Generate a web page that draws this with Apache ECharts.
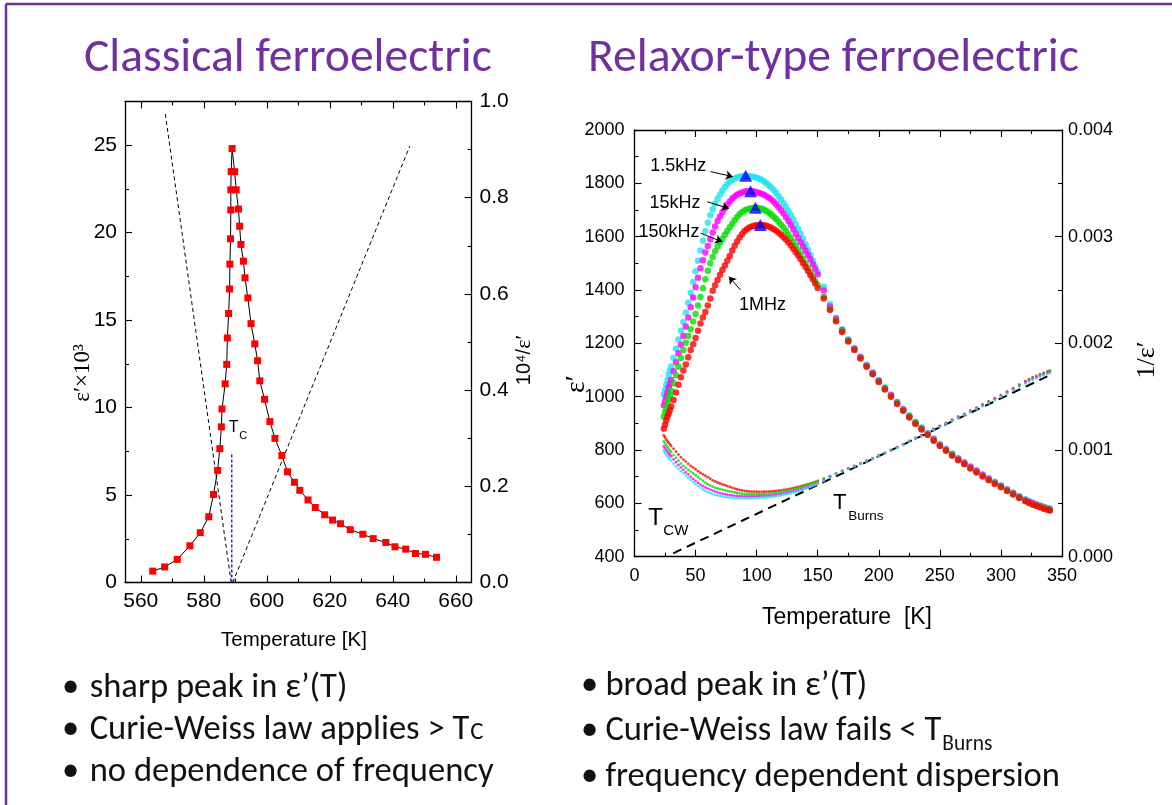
<!DOCTYPE html>
<html>
<head>
<meta charset="utf-8">
<title>Classical vs relaxor ferroelectrics</title>
<script src="https://cdn.jsdelivr.net/npm/echarts@6.0.0/dist/echarts.min.js"></script>
<style>
  html, body { margin: 0; padding: 0; background: #ffffff; }
  #main { width: 1172px; height: 805px; }
</style>
</head>
<body>
<div id="main"></div>
<script>
// ---------- Classical ferroelectric: ε′(T) around T_C ----------
const classicTemp = [563.8, 567.6, 571.6, 575.6, 578.9, 581.6, 583.1, 584.4, 585.1, 585.6,
  585.8, 586.8, 587.3, 587.5, 587.9, 588.2, 588.3, 588.5, 588.6, 588.6,
  588.7, 589.0, 589.8, 590.3, 591.0, 591.4, 591.8, 592.6, 593.1, 594.0,
  595.0, 596.2, 597.1, 597.8, 599.3, 601.0, 602.6, 604.8, 606.6, 608.8,
  610.5, 613.1, 615.4, 618.4, 620.9, 623.4, 626.5, 630.5, 633.8, 637.8,
  640.7, 644.1, 647.2, 650.4, 653.9];
// ε′ in units of 10^3
const classicEps = [0.65, 0.89, 1.32, 2.10, 2.85, 3.76, 5.03, 6.41, 7.65, 8.90,
  9.92, 11.36, 12.47, 13.98, 15.38, 16.78, 18.20, 19.65, 21.30, 22.45,
  23.49, 24.81, 23.49, 22.45, 21.35, 20.37, 19.33, 18.37, 17.42, 16.27,
  14.80, 13.64, 12.68, 11.53, 10.47, 9.20, 8.24, 7.26, 6.33, 5.73,
  5.27, 4.72, 4.29, 3.87, 3.57, 3.36, 3.02, 2.76, 2.51, 2.29,
  2.04, 1.91, 1.66, 1.61, 1.44];
// Curie–Weiss lines, 10^4/ε′ below and above T_C
const cwBelowTemp = [567.8, 588.7];
const cwBelowInv = [0.974, 0.0];
const cwAboveTemp = [589.2, 645.4];
const cwAboveInv = [0.0, 0.907];
// T_C marker (ε′ scale)
const tcTemp = [588.9, 588.9];
const tcEps = [0.0, 7.45];

const classicTempTicks = [560, 580, 600, 620, 640, 660];
const classicTempMinor = [570, 590, 610, 630, 650];
const classicEpsTicks = [0, 5, 10, 15, 20, 25];
const classicEpsMinor = [2.5, 7.5, 12.5, 17.5, 22.5];
const classicInvTicks = [0, 0.2, 0.4, 0.6, 0.8, 1.0];
const classicInvMinor = [0.1, 0.3, 0.5, 0.7, 0.9];

// ---------- Relaxor: ε′(T) at four frequencies ----------
const relaxTemp = [24, 25, 26, 27, 28, 29, 30,
  32, 34, 36, 38, 40, 42, 44, 46, 48, 50,
  52, 54, 56, 58, 60, 62, 64, 66, 68, 70,
  72, 74, 76, 78, 80, 82, 84, 86, 88, 90,
  92, 94, 96, 98, 100, 102, 104, 106, 108, 110,
  112, 114, 116, 118, 120, 122, 124, 126, 128, 130,
  132, 134, 136, 138, 140, 142, 144, 146, 148, 150,
  155, 160, 165, 170, 175, 180, 185, 190, 195, 200,
  205, 210, 215, 220, 225, 230, 235, 240, 245, 250,
  255, 260, 265, 270, 275, 280, 285, 290, 295, 300,
  305, 310, 315, 320, 323, 326, 329, 332, 335, 338, 340];
const eps1_5kHz = [1008, 1026, 1044, 1063, 1081, 1097, 1113,
  1146, 1180, 1214, 1247, 1280, 1316, 1352, 1390, 1430, 1470,
  1510, 1548, 1585, 1620, 1652, 1680, 1703, 1723, 1742, 1758,
  1773, 1786, 1797, 1806, 1813, 1818, 1822, 1825, 1827, 1828,
  1828, 1827, 1826, 1824, 1821, 1818, 1813, 1807, 1800, 1792,
  1784, 1775, 1764, 1752, 1739, 1725, 1711, 1697, 1681, 1664,
  1647, 1629, 1611, 1592, 1572, 1552, 1531, 1510, 1489, 1468,
  1412, 1348, 1296, 1253, 1215, 1183, 1151, 1120, 1092, 1063,
  1035, 1008, 981, 955, 930, 906, 885, 864, 843, 823,
  805, 787, 770, 755, 739, 724, 709, 695, 681, 668,
  654, 641, 628, 616, 609, 603, 598, 593, 588, 584, 581];
const eps15kHz = [968, 984, 1000, 1017, 1034, 1048, 1063,
  1095, 1129, 1163, 1195, 1228, 1263, 1297, 1335, 1372, 1410,
  1446, 1482, 1512, 1541, 1565, 1590, 1616, 1638, 1659, 1676,
  1692, 1707, 1720, 1732, 1743, 1751, 1757, 1762, 1766, 1768,
  1770, 1771, 1770, 1769, 1767, 1764, 1761, 1757, 1752, 1746,
  1739, 1731, 1721, 1710, 1699, 1687, 1673, 1659, 1644, 1628,
  1611, 1595, 1579, 1563, 1547, 1531, 1515, 1497, 1478, 1458,
  1398, 1338, 1291, 1250, 1212, 1180, 1148, 1117, 1089, 1060,
  1032, 1005, 978, 952, 927, 903, 882, 861, 840, 820,
  802, 784, 767, 752, 736, 721, 706, 692, 678, 665,
  651, 638, 625, 613, 606, 600, 595, 590, 585, 581, 578];
const eps150kHz = [925, 942, 958, 974, 990, 1005, 1021,
  1050, 1080, 1112, 1145, 1175, 1202, 1228, 1253, 1282, 1310,
  1342, 1374, 1407, 1440, 1472, 1500, 1524, 1545, 1563, 1578,
  1592, 1607, 1621, 1635, 1648, 1662, 1674, 1684, 1692, 1698,
  1702, 1705, 1707, 1708, 1708, 1707, 1705, 1701, 1696, 1690,
  1683, 1675, 1666, 1656, 1645, 1634, 1621, 1608, 1594, 1580,
  1565, 1549, 1533, 1516, 1499, 1482, 1466, 1449, 1433, 1418,
  1375, 1328, 1285, 1245, 1209, 1177, 1145, 1114, 1086, 1057,
  1029, 1002, 975, 949, 924, 900, 879, 858, 837, 817,
  799, 781, 764, 749, 733, 718, 703, 689, 675, 662,
  648, 635, 622, 610, 603, 597, 592, 587, 582, 578, 575];
const eps1MHz = [880, 895, 911, 925, 937, 950, 963,
  988, 1016, 1045, 1073, 1098, 1121, 1148, 1175, 1197, 1220,
  1247, 1274, 1297, 1318, 1342, 1368, 1397, 1418, 1438, 1457,
  1475, 1492, 1510, 1528, 1548, 1566, 1582, 1597, 1609, 1620,
  1628, 1634, 1638, 1641, 1643, 1644, 1644, 1643, 1641, 1637,
  1633, 1628, 1622, 1615, 1607, 1598, 1589, 1578, 1567, 1555,
  1542, 1529, 1515, 1500, 1486, 1471, 1456, 1440, 1424, 1408,
  1368, 1325, 1283, 1243, 1207, 1175, 1143, 1112, 1084, 1055,
  1027, 1000, 973, 947, 922, 898, 877, 856, 835, 815,
  797, 779, 762, 747, 731, 716, 701, 687, 673, 660,
  646, 633, 620, 608, 601, 595, 590, 585, 580, 576, 573];
// dielectric maxima (blue triangles)
const peakTemp = [91, 95, 99, 103];
const peakEps = [1828, 1770, 1708, 1644];
// Curie–Weiss line for 1/ε′
const cwRelaxTemp = [31.7, 338];
const cwRelaxInv = [0.000032, 0.00169];

const relaxTempTicks = [0, 50, 100, 150, 200, 250, 300, 350];
const relaxTempMinor = [25, 75, 125, 175, 225, 275, 325];
const relaxEpsTicks = [400, 600, 800, 1000, 1200, 1400, 1600, 1800, 2000];
const relaxEpsMinor = [500, 700, 900, 1100, 1300, 1500, 1700, 1900];
const relaxInvTicks = [0, 0.001, 0.002, 0.003, 0.004];
const relaxInvMinor = [0.0005, 0.0015, 0.0025, 0.0035];

// ---------- presentation ----------
const SANS = "'Liberation Sans', Arial, Helvetica, sans-serif";
const SERIF = "'Liberation Serif', 'Times New Roman', serif";
const SLIDE = "Carlito, Lato, 'Open Sans', sans-serif";
const PURPLE = '#7030a0';

const zip = (a, b) => a.map((v, i) => [v, b[i]]);
const recip = (a) => a.map(v => 1 / v);

function axis(o) {
  return {
    type: 'value', gridIndex: o.grid, position: o.pos, min: o.min, max: o.max,
    axisLine: { show: !!o.line, onZero: false, lineStyle: { color: '#000', width: 1.3 } },
    axisTick: { show: true, inside: true, length: o.len, customValues: o.ticks,
      lineStyle: { color: '#000', width: 1.1 } },
    axisLabel: o.fmt ? { show: true, customValues: o.ticks, margin: o.margin, fontSize: o.size,
      fontFamily: SANS, color: '#000', formatter: o.fmt } : { show: false },
    splitLine: { show: false }, minorTick: { show: false }, minorSplitLine: { show: false },
    silent: true
  };
}
const intFmt = v => String(Math.round(v));
const fix1 = v => v.toFixed(1);
const fix3 = v => v.toFixed(3);

const xAxes = [
  // classical grid
  axis({ grid: 0, pos: 'bottom', min: 555, max: 665, ticks: classicTempTicks, len: 7, line: true, fmt: intFmt, size: 21, margin: 8 }),
  axis({ grid: 0, pos: 'bottom', min: 555, max: 665, ticks: classicTempMinor, len: 4 }),
  axis({ grid: 0, pos: 'top', min: 555, max: 665, ticks: classicTempTicks, len: 7, line: true }),
  axis({ grid: 0, pos: 'top', min: 555, max: 665, ticks: classicTempMinor, len: 4 }),
  // relaxor grid
  axis({ grid: 1, pos: 'bottom', min: 0, max: 350, ticks: relaxTempTicks, len: 7, line: true, fmt: intFmt, size: 18, margin: 10 }),
  axis({ grid: 1, pos: 'bottom', min: 0, max: 350, ticks: relaxTempMinor, len: 4 }),
  axis({ grid: 1, pos: 'top', min: 0, max: 350, ticks: relaxTempTicks, len: 7, line: true }),
  axis({ grid: 1, pos: 'top', min: 0, max: 350, ticks: relaxTempMinor, len: 4 })
];
const yAxes = [
  axis({ grid: 0, pos: 'left', min: 0, max: 27.5, ticks: classicEpsTicks, len: 7, line: true, fmt: intFmt, size: 21, margin: 8 }),
  axis({ grid: 0, pos: 'left', min: 0, max: 27.5, ticks: classicEpsMinor, len: 4 }),
  axis({ grid: 0, pos: 'right', min: 0, max: 1, ticks: classicInvTicks, len: 7, line: true, fmt: fix1, size: 21, margin: 8 }),
  axis({ grid: 0, pos: 'right', min: 0, max: 1, ticks: classicInvMinor, len: 4 }),
  axis({ grid: 1, pos: 'left', min: 400, max: 2000, ticks: relaxEpsTicks, len: 7, line: true, fmt: intFmt, size: 18, margin: 10 }),
  axis({ grid: 1, pos: 'left', min: 400, max: 2000, ticks: relaxEpsMinor, len: 4 }),
  axis({ grid: 1, pos: 'right', min: 0, max: 0.004, ticks: relaxInvTicks, len: 7, line: true, fmt: fix3, size: 18, margin: 6 }),
  axis({ grid: 1, pos: 'right', min: 0, max: 0.004, ticks: relaxInvMinor, len: 4 })
];

const freqSets = [
  { name: '1.5kHz', eps: eps1_5kHz, color: '#1fe3ef' },
  { name: '15kHz', eps: eps15kHz, color: '#ff00ff' },
  { name: '150kHz', eps: eps150kHz, color: '#00e000' },
  { name: '1MHz', eps: eps1MHz, color: '#ff0000' }
];

const series = [
  // classical: Curie–Weiss lines and T_C marker
  { type: 'line', xAxisIndex: 0, yAxisIndex: 2, data: zip(cwBelowTemp, cwBelowInv), symbol: 'none',
    lineStyle: { color: '#000', width: 1, type: [4, 3] }, z: 2 },
  { type: 'line', xAxisIndex: 0, yAxisIndex: 2, data: zip(cwAboveTemp, cwAboveInv), symbol: 'none',
    lineStyle: { color: '#000', width: 1, type: [4, 3] }, z: 2 },
  { type: 'line', xAxisIndex: 0, yAxisIndex: 0, data: zip(tcTemp, tcEps), symbol: 'none',
    lineStyle: { color: '#0000ff', width: 1.3, type: [3, 2] }, z: 2 },
  // classical: ε′ data
  { type: 'line', xAxisIndex: 0, yAxisIndex: 0, data: zip(classicTemp, classicEps),
    symbol: 'rect', symbolSize: 7, itemStyle: { color: '#ff0000' },
    lineStyle: { color: '#000', width: 1 }, z: 3 },
  // relaxor: Curie–Weiss line
  { type: 'line', xAxisIndex: 4, yAxisIndex: 6, data: zip(cwRelaxTemp, cwRelaxInv), symbol: 'none',
    lineStyle: { color: '#000', width: 2, type: [9, 6] }, z: 2 }
];
// relaxor: reciprocal permittivity (small dots)
freqSets.slice().reverse().forEach(f => {
  series.push({ type: 'scatter', xAxisIndex: 4, yAxisIndex: 6, data: zip(relaxTemp, recip(f.eps)),
    symbol: 'circle', symbolSize: 2.8, itemStyle: { color: f.color }, z: 3 });
});
// relaxor: ε′ (large dots)
freqSets.forEach(f => {
  series.push({ type: 'scatter', xAxisIndex: 4, yAxisIndex: 4, data: zip(relaxTemp, f.eps),
    symbol: 'circle', symbolSize: 6.5, itemStyle: { color: f.color }, z: 4 });
});
// relaxor: peak markers
series.push({ type: 'scatter', xAxisIndex: 4, yAxisIndex: 4, data: zip(peakTemp, peakEps),
  symbol: 'triangle', symbolSize: [13, 12], itemStyle: { color: '#0000ff' }, z: 6 });

// frequency labels with arrows, anchored in (T, ε′)
const freqNotes = [
  { text: '1.5kHz', at: [58.7, 1866], align: 'right', from: [62.3, 1844], to: [80.5, 1825] },
  { text: '15kHz', at: [54.1, 1728], align: 'right', from: [59.5, 1731], to: [77.3, 1706] },
  { text: '150kHz', at: [53.3, 1616], align: 'right', from: [54.1, 1613], to: [71.8, 1581] },
  { text: '1MHz', at: [85.5, 1344], align: 'left', from: [86.8, 1400], to: [77.3, 1450] }
];
series.push({ type: 'lines', coordinateSystem: 'cartesian2d', xAxisIndex: 4, yAxisIndex: 4,
  symbol: ['none', 'arrow'], symbolSize: 7,
  lineStyle: { color: '#000', width: 1, opacity: 1 },
  data: freqNotes.map(n => ({ coords: [n.from, n.to] })), z: 7 });

const option = {
  animation: false,
  backgroundColor: '#ffffff',
  textStyle: { fontFamily: SANS },
  grid: [
    { left: 125, top: 101.5, width: 346.5, height: 481, containLabel: false, outerBoundsMode: 'none' },
    { left: 634.5, top: 130, width: 427.5, height: 426.7, containLabel: false, outerBoundsMode: 'none' }
  ],
  xAxis: xAxes,
  yAxis: yAxes,
  series: series
};

const chart = echarts.init(document.getElementById('main'), null, { renderer: 'canvas' });
chart.setOption(option);

// ---------- text: titles, axis names, annotations, bullets ----------
const measureCtx = document.createElement('canvas').getContext('2d');
function measure(text, size, family) {
  measureCtx.font = size + 'px ' + family;
  return measureCtx.measureText(text).width;
}
function fit(text, family, width) { return 100 * width / measure(text, 100, family); }

function txt(x, y, text, size, family, opts) {
  opts = opts || {};
  const align = opts.align || 'left';
  const valign = opts.valign || 'middle';
  const style = {
    text: text, fontSize: size, fontFamily: family, fill: opts.color || '#000',
    align: align, textAlign: align, verticalAlign: valign, textVerticalAlign: valign
  };
  if (opts.rich) style.rich = opts.rich;
  return { type: 'text', x: x, y: y, rotation: opts.rotation || 0, silent: true, z: 100, style: style };
}
const px = (xi, yi, p) => chart.convertToPixel({ xAxisIndex: xi, yAxisIndex: yi }, p);

const g = [];
// slide frame
g.push({ type: 'line', shape: { x1: 6, y1: 4, x2: 6, y2: 805 }, style: { stroke: PURPLE, lineWidth: 2.5 }, z: 100, silent: true });
g.push({ type: 'line', shape: { x1: 6, y1: 4, x2: 1172, y2: 4 }, style: { stroke: PURPLE, lineWidth: 2.5 }, z: 100, silent: true });

// titles
const t1 = 'Classical ferroelectric', t2 = 'Relaxor-type ferroelectric';
g.push(txt(84, 59, t1, fit(t1, SLIDE, 408), SLIDE, { color: PURPLE }));
g.push(txt(588, 59, t2, fit(t2, SLIDE, 491), SLIDE, { color: PURPLE }));

// classical axis names
g.push(txt(83, 373, 'ε′×10³', 23, SERIF, { align: 'center', rotation: Math.PI / 2 }));
g.push(txt(524, 360, '{a|10⁴/}{b|ε′}', 20, SANS, { align: 'center', rotation: Math.PI / 2,
  rich: { a: { fontSize: 20, fontFamily: SANS, fill: '#000' }, b: { fontSize: 22, fontFamily: SERIF, fill: '#000' } } }));
g.push(txt(294, 640, 'Temperature [K]', 20.5, SANS, { align: 'center' }));
// T_C label
let p = px(0, 0, [587.9, 8.86]);
g.push(txt(p[0], p[1], 'T', 16, SANS));
p = px(0, 0, [591.3, 8.40]);
g.push(txt(p[0], p[1], 'C', 11, SANS));

// relaxor axis names
g.push(txt(577, 384, 'ε′', 28, SERIF, { align: 'center', rotation: Math.PI / 2 }));
g.push(txt(1147, 360, '1/ε′', 26, SERIF, { align: 'center', rotation: Math.PI / 2 }));
g.push(txt(847, 618, 'Temperature  [K]', 23, SANS, { align: 'center' }));
// frequency labels
freqNotes.forEach(n => {
  const q = px(4, 4, n.at);
  g.push(txt(q[0], q[1], n.text, 18, SANS, { align: n.align }));
});
// characteristic temperatures
p = px(4, 4, [11.3, 544]); g.push(txt(p[0], p[1], 'T', 24, SANS));
p = px(4, 4, [23.6, 497]); g.push(txt(p[0], p[1], 'CW', 15, SANS));
p = px(4, 4, [162.6, 603]); g.push(txt(p[0], p[1], 'T', 22, SANS));
p = px(4, 4, [174.9, 550]); g.push(txt(p[0], p[1], 'Burns', 13.5, SANS));

// bullet lists
const bSize = fit('no dependence of frequency', SLIDE, 404);
const leftX = 89.7, rightX = 605.4, leftDot = 62, rightDot = 581;
const bulletRows = [
  { x: leftX, dot: leftDot, y: 688, text: 'sharp peak in ε’(T)' },
  { x: leftX, dot: leftDot, y: 730, text: 'Curie-Weiss law applies > T', sub: 'C', subScale: 0.72, subDy: 3 },
  { x: leftX, dot: leftDot, y: 772, text: 'no dependence of frequency' },
  { x: rightX, dot: rightDot, y: 686, text: 'broad peak in ε’(T)' },
  { x: rightX, dot: rightDot, y: 731, text: 'Curie-Weiss law fails < T', sub: 'Burns', subScale: 0.62, subDy: 14 },
  { x: rightX, dot: rightDot, y: 777, text: 'frequency dependent dispersion' }
];
bulletRows.forEach(r => {
  g.push(txt(r.dot, r.y, '•', bSize, SLIDE, { color: '#111' }));
  g.push(txt(r.x, r.y, r.text, bSize, SLIDE, { color: '#111' }));
  if (r.sub) {
    const w = measure(r.text, bSize, SLIDE);
    g.push(txt(r.x + w + 1, r.y + r.subDy, r.sub, bSize * r.subScale, SLIDE, { color: '#111' }));
  }
});

chart.setOption({ graphic: g });
</script>
</body>
</html>
